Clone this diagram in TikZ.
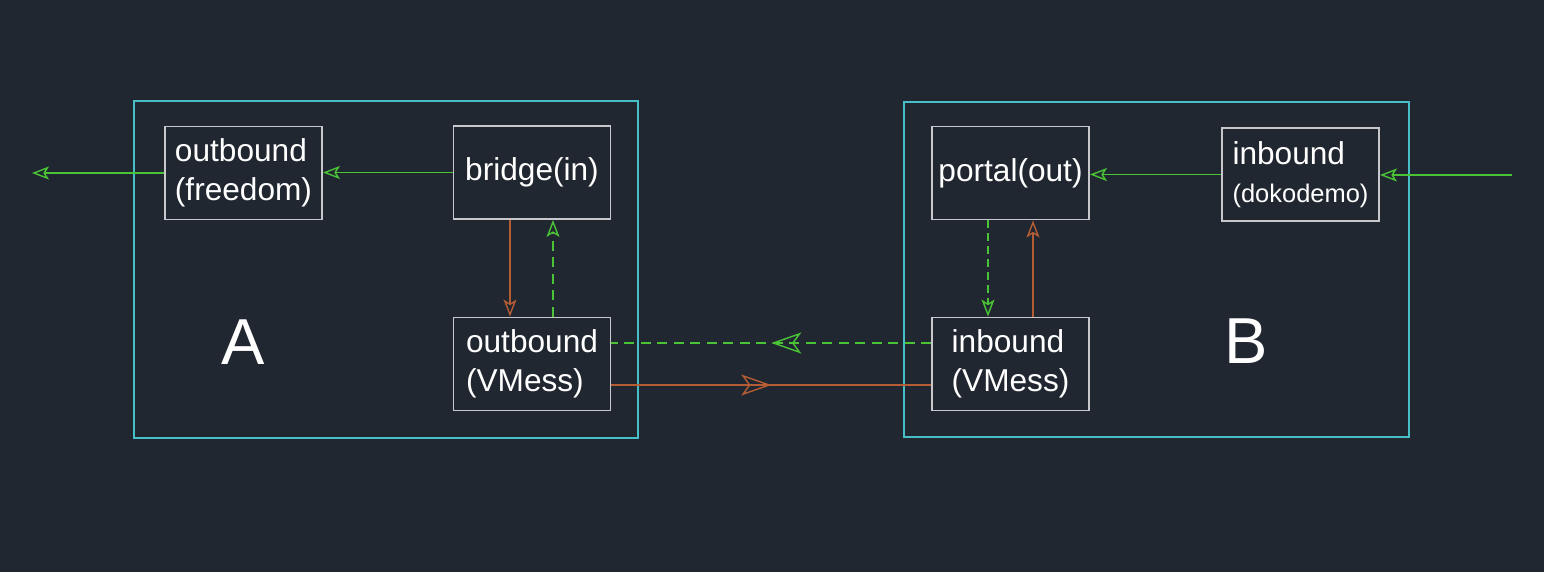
\documentclass[tikz,border=0pt]{standalone}
\usepackage{fontspec}
\setmainfont{Liberation Sans}
\usetikzlibrary{arrows.meta, decorations.markings}
\definecolor{bgdark}{RGB}{33,39,48}
\definecolor{boxcyan}{RGB}{72,190,198}
\definecolor{flowgreen}{RGB}{74,196,54}
\definecolor{flowbrown}{RGB}{180,92,52}
\definecolor{boxgray}{RGB}{200,200,204}
\tikzset{
  proxy/.style={draw=boxgray, line width=1.1pt, minimum width=3.14cm, minimum height=1.86cm,
    inner sep=0pt, align=left, text=white, font=\fontsize{18}{22}\selectfont},
  host/.style={draw=boxcyan, line width=0.8pt, minimum width=10.08cm, minimum height=6.74cm},
  hostlabel/.style={text=white, font=\fontsize{37}{40}\selectfont},
  inflow/.style={draw=flowgreen, line width=0.8pt},
  tunnel/.style={draw=flowbrown, line width=0.8pt},
  gaps/.style={dash pattern=on 0.2cm off 0.13cm},
  endtip/.style={-{Stealth[open, length=0.34cm, width=0.26cm, inset=0.08cm]}},
  midtip/.style={postaction={decorate}, decoration={markings,
    mark=at position 0.5 with {\arrow{Stealth[open, length=0.6cm, width=0.42cm, inset=0.15cm]}}}}
}
\begin{document}
\begin{tikzpicture}[x=0.02cm, y=-0.02cm]
	\fill[bgdark] (0,0) rectangle (1544,572);
	
	% the two hosts
	\node[host] (hostA) at (386,269.5) {};
	\node[host, minimum width=10.1cm, minimum height=6.7cm] (hostB) at (1156.5,269.5) {};
	\node[hostlabel] (labelA) at (243,342) {A};
	\node[hostlabel] (labelB) at (1246,341) {B};
	
	\node[proxy] (freedom) at (243.5,173) {outbound\\(freedom)};
	\node[proxy] (bridge) at (532,172.5) {bridge(in)};
	\node[proxy] (vmessout) at (532,364) {outbound\\(VMess)};
	\node[proxy] (portal) at (1010.5,173) {portal(out)};
	\node[proxy] (doko) at (1300.5,174.5) {inbound\\{\fontsize{14.5}{18}\selectfont(dokodemo)}};
	\node[proxy] (vmessin) at (1010.5,364) {inbound\\(VMess)};
	
	\coordinate (exit) at (32,172);
	\coordinate (entry) at (1512,175);
	
	\draw[inflow, endtip] (freedom.west) -- (freedom.west -| exit);
	\draw[inflow, endtip] (bridge.west) -- (bridge.west -| freedom.east);
	\draw[tunnel, endtip] ([xshift=-0.44cm]bridge.south) -- ([xshift=-0.44cm]vmessout.north);
	\draw[inflow, gaps, endtip] ([xshift=0.42cm]vmessout.north) -- ([xshift=0.42cm]bridge.south);
	
	\draw[inflow, gaps, midtip] ([yshift=0.42cm]vmessin.west) -- ([yshift=0.42cm]vmessout.east);
	\draw[tunnel, midtip] ([yshift=-0.42cm]vmessout.east) -- ([yshift=-0.42cm]vmessin.west);
	
	\draw[inflow, dash pattern=on 0.16cm off 0.1cm, endtip] ([xshift=-0.45cm]portal.south) -- ([xshift=-0.45cm]vmessin.north);
	\draw[tunnel, endtip] ([xshift=0.45cm]vmessin.north) -- ([xshift=0.45cm]portal.south);
	\draw[inflow, endtip] (doko.west) -- (doko.west -| portal.east);
	\draw[inflow, endtip] (entry) -- (entry -| doko.east);
\end{tikzpicture}
\end{document}
